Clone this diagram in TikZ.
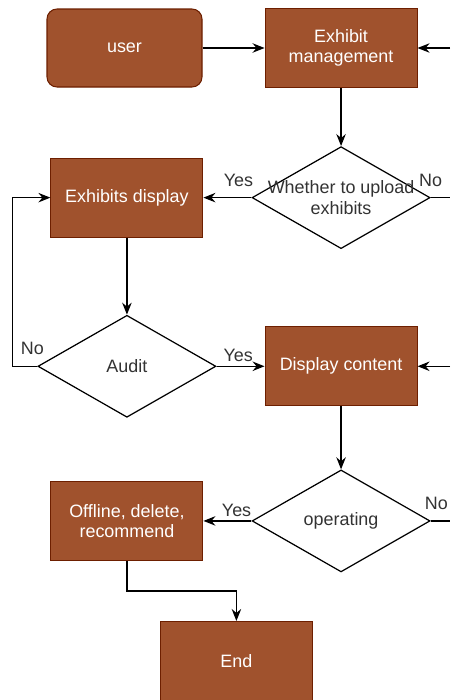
\documentclass[tikz,border=0pt]{standalone}
\usepackage{fontspec}
\setmainfont{Liberation Sans}
\usetikzlibrary{positioning, shapes.geometric, arrows.meta}
\definecolor{boxfill}{HTML}{A0522D}
\definecolor{boxline}{HTML}{6D1F00}
\definecolor{labeltext}{HTML}{333333}

\begin{document}
\begin{tikzpicture}[node distance=1.16cm and 1.24cm, font=\fontsize{10.2pt}{11.6pt}\selectfont]
    \tikzstyle{startstop} = [rectangle, rounded corners=0.2cm, minimum width=3.1cm, minimum height=1.56cm, align=center, line width=0.6pt, draw=boxline, fill=boxfill, text=white]
    \tikzstyle{process} = [rectangle, minimum width=3.04cm, minimum height=1.58cm, align=center, line width=0.6pt, draw=boxline, fill=boxfill, text=white]
    \tikzstyle{decision} = [diamond, minimum width=3.56cm, minimum height=2.04cm, inner sep=0pt, line width=0.7pt, draw=black, fill=white]
    \tikzstyle{dtext} = [text=labeltext, align=center]
    \tikzstyle{answer} = [text=labeltext, inner sep=1pt]
    \tikzstyle{arrow} = [line width=0.7pt, -{Stealth[length=2.4mm, width=1.9mm, inset=0.8mm]}]
    \tikzstyle{line} = [line width=0.7pt]

    \path[use as bounding box, fill=white] (0,0) rectangle (9,-14);
    \coordinate (rim) at (9,0);

    \node (user) [startstop] at (2.49,-0.96) {user};
    \node (em) [process, right=of user] {Exhibit\\management};
    \node (d1) [decision, below=of em, label={[dtext]center:Whether to upload\\exhibits}] {};
    \node (ed) [process, left=0.96cm of d1] {Exhibits display};
    \node (audit) [decision, below=1.54cm of ed, label={[dtext]center:Audit}] {};
    \node (dc) [process, right=0.96cm of audit] {Display content};
    \node (op) [decision, below=1.26cm of dc, label={[dtext]center:operating}] {};
    \node (off) [process, left=0.96cm of op] {Offline, delete,\\recommend};
    \node (end) [process, below=1.2cm of off, xshift=2.19cm] {End};

    % lines running off the right edge
    \coordinate (emin) at (em.east -| rim);
    \coordinate (d1out) at (d1.east -| rim);
    \coordinate (dcin) at (dc.east -| rim);
    \coordinate (opout) at (op.east -| rim);

    \draw [arrow] (user) -- (em);
    \draw [arrow] (emin) -- (em.east);
    \draw [arrow] (em) -- (d1);
    \draw [arrow] (d1.west) -- node[answer, above=5pt, pos=0.27] {Yes} (ed.east);
    \draw [line] (d1.east) -- node[answer, above=5pt, pos=0] {No} (d1out);
    \draw [arrow] (ed) -- (audit);
    \draw [arrow] (audit.west) -- node[answer, above=5pt, pos=0.2] {No} ++(-0.5,0) |- (ed.west);
    \draw [arrow] (audit.east) -- node[answer, above=1pt, pos=0.45] {Yes} (dc.west);
    \draw [arrow] (dcin) -- (dc.east);
    \draw [arrow] (dc) -- (op);
    \draw [arrow] (op.west) -- node[answer, above=1pt, pos=0.31] {Yes} (off.east);
    \draw [line] (op.east) -- node[answer, above=5pt, pos=0.29] {No} (opout);
    \draw [arrow] (off.south) -- ++(0,-0.6) -| (end.north);
\end{tikzpicture}
\end{document}
